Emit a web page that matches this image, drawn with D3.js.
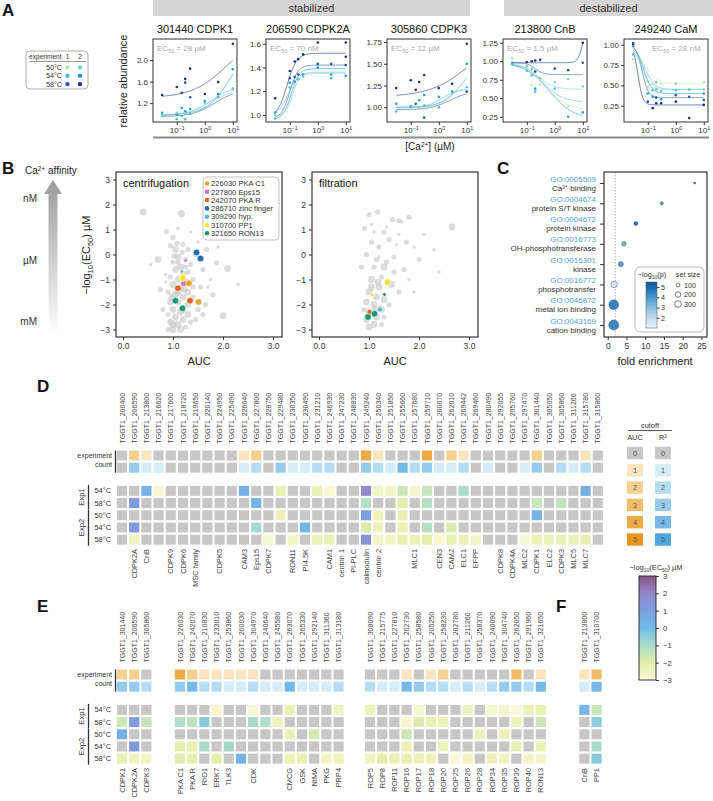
<!DOCTYPE html>
<html><head><meta charset="utf-8">
<script src="https://cdn.jsdelivr.net/npm/d3@7"></script>
<style>
body{margin:0;background:#fff;}
svg{font-family:"Liberation Sans",Arial,Helvetica,sans-serif;}
</style></head><body>
<svg id="fig" width="713" height="801"></svg>
<script>
// ================= DATA =================
// ---- Panel A ----
const seriesNames = ["50°C exp1","54°C exp1","58°C exp1","50°C exp2","54°C exp2","58°C exp2"];
const seriesColors = ["#bfe5b3","#4fbfd3","#2c52a6","#7fd3bc","#1f9ad6","#1c2c84"];
const legendTemps = ["50°C","54°C","58°C"];
const aTitles = ["301440 CDPK1","206590 CDPK2A","305860 CDPK3","213800 CnB","249240 CaM"];
const aEC50 = ["28 µM","70 nM","12 µM","1.5 µM","28 nM"];
const aYDomains = [[0.85,2.39],[0.94,1.64],[0.83,1.785],[0.18,1.30],[0.05,1.07]];
const aYTicks = [[1.2,1.6,2.0],[1.0,1.2,1.4,1.6],[1.0,1.25,1.5,1.75],[0.25,0.5,0.75,1.0,1.25],[0.25,0.5,0.75,1.0]];
const aYFormats = [".1f",".1f",".2f",".2f",".2f"];
const aXTicks = [0.1, 1, 10];
const aXTickExp = ["\u22121","0","1"];
const aGroups = ["stabilized","destabilized"];
// fits: [series, start, end, log10EC50, hill]
const fitsCDPK1 = [[5,1.3,2.5,0.8,0.7],[4,0.98,2.5,1.0,1.0],[1,0.98,1.5,0.2,1.2],[3,0.96,1.46,0.15,1.0],[2,0.95,1.45,0.35,1.1]];
const fitsCDPK2A = [[5,0.98,1.52,-1.1,2.5],[2,0.97,1.42,-1.0,3],[4,0.96,1.39,-0.95,3],[1,1.0,1.36,-1.05,2.5],[3,0.99,1.35,-0.9,3.5]];
const fitsCDPK3 = [[5,1.12,1.9,1.2,0.6],[4,1.0,1.6,0.9,1.2],[1,0.99,1.21,0.1,1.5],[2,0.97,1.19,0.4,1.2],[3,1.0,1.22,0.3,2]];
const fitsCnB = [[5,0.98,1.5,1.0,5],[2,0.98,0.82,-0.7,3],[3,0.98,0.62,-0.6,1.5],[1,0.97,0.45,-0.4,1.3],[0,0.96,0.35,-0.3,1.2],[4,0.98,0.22,-0.2,1.0]];
const fitsCaM = [[5,1.0,0.26,-1.35,5],[2,1.0,0.35,-1.2,4],[4,1.0,0.40,-1.15,3],[1,0.97,0.45,-1.1,2.5],[0,0.93,0.52,-1.05,2],[3,0.96,0.45,-1.2,3]];
// points: [conc µM, relative abundance, series]
const ptsCDPK1 = [[0.03,1.35,5],[0.03,1.02,4],[0.03,0.96,1],[0.03,0.98,3],[0.1,1.50,5],[0.1,0.99,4],[0.1,0.90,1],[0.1,1.02,3],
 [0.15,1.39,2],[0.15,1.11,4],[0.15,0.96,1],[0.2,1.65,5],[0.2,1.58,2],[0.2,1.05,4],[0.2,0.90,1],[0.3,1.84,5],[0.3,1.31,2],[0.3,1.09,4],[0.3,1.00,1],
 [1,1.37,5],[1,1.24,4],[1,1.21,1],[1,1.11,3],[3,1.59,5],[3,1.37,4],[3,1.31,1],[10,2.30,5],[10,1.83,4],[10,1.47,1],[10,1.45,3]];
const ptsCDPK2A = [[0.03,1.14,5],[0.03,1.02,4],[0.03,0.97,1],[0.03,1.0,3],[0.1,1.37,5],[0.1,1.31,2],[0.1,1.27,4],[0.1,1.23,1],
 [0.15,1.45,5],[0.15,1.32,2],[0.15,1.28,4],[0.2,1.47,5],[0.2,1.34,2],[0.2,1.30,1],[0.3,1.51,5],[0.3,1.34,4],[0.3,1.32,3],
 [1,1.61,5],[1,1.43,2],[1,1.40,4],[3,1.43,2],[3,1.34,4],[3,1.31,1],[10,1.61,5],[10,1.49,5],[10,1.42,2],[10,1.33,4]];
const ptsCDPK3 = [[0.03,1.22,5],[0.03,1.04,4],[0.03,0.95,1],[0.1,1.31,5],[0.1,1.01,4],[0.1,1.0,1],[0.15,1.20,5],[0.15,1.04,2],
 [0.2,1.29,5],[0.2,1.08,4],[0.2,1.0,3],[0.3,1.37,5],[0.3,1.14,4],[0.3,1.02,1],[0.3,0.88,2],[1,1.22,5],[1,1.12,4],[1,1.0,1],
 [3,1.27,5],[3,1.18,4],[10,1.73,5],[10,1.50,4],[10,1.23,1],[10,1.18,2]];
const ptsCnB = [[0.03,1.04,0],[0.03,0.98,4],[0.03,0.96,1],[0.1,0.99,5],[0.1,0.93,3],[0.1,0.87,1],[0.15,1.0,5],[0.15,0.9,3],[0.15,0.81,1],[0.15,0.68,0],
 [0.2,1.01,5],[0.2,0.86,2],[0.2,0.63,4],[0.2,0.59,1],[0.3,1.02,5],[0.3,0.77,3],[0.3,0.68,0],[1,0.9,2],[1,0.72,3],[1,0.63,1],
 [3,0.88,2],[3,0.76,3],[3,0.39,0],[3,0.25,4],[10,1.25,5],[10,0.98,2],[10,0.66,3],[10,0.31,4]];
const ptsCaM = [[0.03,1.01,5],[0.03,1.02,2],[0.03,0.98,4],[0.03,0.88,1],[0.03,0.82,0],[0.1,0.55,3],[0.1,0.48,0],[0.1,0.40,4],[0.1,0.30,2],
 [0.15,0.52,0],[0.15,0.44,1],[0.15,0.36,4],[0.15,0.22,5],[0.2,0.54,3],[0.2,0.45,1],[0.2,0.35,2],[0.2,0.28,5],[0.3,0.52,0],[0.3,0.43,1],[0.3,0.33,4],[0.3,0.28,5],
 [1,0.52,3],[1,0.44,1],[1,0.38,2],[1,0.30,5],[3,0.45,1],[3,0.36,2],[3,0.10,5],[10,0.54,0],[10,0.45,3],[10,0.40,4],[10,0.32,2],[10,0.26,5]];

// ---- Panel B ----
const bHlNames = ["226030 PKA C1","227800 Eps15","242070 PKA R","286710 zinc finger","309290 hyp.","310700 PP1","321650 RON13"];
const bHlColors = ["#f0a22e","#d975b4","#dd6526","#1f6db3","#5bb4e8","#f3e337","#14996b"];
const bXTicks = [0,1,2,3];
const bYTicks = [3,2,1,0,-1,-2,-3];
const bAffinity = ["nM","µM","mM"];
// gray points: [AUC, -log10(EC50), sizeClass]
const bGrayCentri = [[0.4,1.7,3],[1.17,1.63,3],[0.87,0.92,2],[1.0,0.68,2],[1.35,0.9,1],[1.1,1.05,1],[0.95,0.35,2],[0.7,-0.2,3],[2.09,-0.56,3],[2.0,-2.45,3],
 [1.8,-1.6,2],[1.67,0.2,2],[1.87,-0.33,2],[1.6,-0.6,2],[1.75,-1.0,1],[1.55,-1.3,2],[1.65,-2.0,2],[1.45,-2.6,2],[0.75,-1.4,2],[0.8,-2.2,2],
 [0.85,-0.8,1],[1.5,0.5,1],[1.3,0.2,2],[1.2,0.4,2],[1.05,0.2,3],[1.1,-0.1,3],[1.0,-0.3,2],[1.15,-0.5,3],[1.25,-0.2,2],[1.05,-0.6,3],
 [1.2,-0.8,3],[0.95,-0.9,2],[1.1,-1.0,3],[1.3,-0.7,2],[1.4,-1.0,2],[1.0,-1.2,3],[1.15,-1.3,3],[1.3,-1.5,3],[0.9,-1.5,2],[1.05,-1.6,3],
 [1.2,-1.7,3],[1.4,-1.7,2],[0.95,-1.9,3],[1.1,-1.9,3],[1.3,-2.0,3],[1.5,-2.2,2],[1.0,-2.2,3],[1.15,-2.3,3],[1.3,-2.4,3],[0.9,-2.4,2],
 [1.05,-2.5,3],[1.2,-2.6,3],[0.95,-2.7,3],[1.1,-2.8,3],[1.25,-2.9,2],[1.0,-3.0,3],[1.15,-3.0,3],[0.9,-3.0,2],[1.35,-2.7,2],[1.4,-1.3,2],
 [0.85,-1.1,1],[1.25,-1.1,3],[1.1,-0.3,2],[1.35,-0.4,2],[1.6,-2.4,2],[1.7,-1.3,1],[1.45,0.0,2],[1.0,-2.8,3],[1.2,-2.2,3],[1.1,-1.5,3],
 [1.25,-0.5,2],[0.98,-1.7,3],[0.55,-0.4,1],[1.9,0.3,1],[1.55,-0.2,1],[2.3,-1.2,1],[1.08,0.45,2],[1.18,0.1,2],[1.02,-0.05,2],[1.22,-1.4,3]];
const bGrayFilt = [[1.17,1.7,2],[1.47,1.4,2],[1.8,1.5,2],[2.66,1.1,3],[1.6,1.36,2],[1.65,1.3,1],[0.91,1.05,2],[1.0,1.6,2],[1.05,1.2,1],[1.3,0.9,2],
 [1.4,0.6,2],[1.6,0.8,1],[1.75,0.5,2],[1.9,0.3,1],[2.0,-0.2,2],[1.2,0.3,2],[1.05,0.5,2],[0.95,0.0,2],[1.15,-0.2,2],[1.3,-0.5,3],
 [1.5,-0.1,2],[1.7,-0.6,2],[1.25,-0.9,2],[1.45,-1.2,3],[1.05,-1.0,3],[1.2,-1.3,3],[1.0,-1.5,3],[1.15,-1.7,3],[1.3,-1.8,3],[0.95,-1.9,3],
 [1.1,-2.0,3],[1.25,-2.2,3],[1.0,-2.3,3],[1.15,-2.5,3],[1.3,-2.5,2],[0.95,-2.6,3],[1.1,-2.8,3],[1.25,-2.8,2],[1.0,-2.9,3],[0.9,-2.2,2],
 [1.4,-2.0,2],[1.6,-1.5,2],[1.8,-1.0,1],[2.3,0.2,1],[1.35,1.1,1],[1.55,0.4,1],[1.1,0.9,1],[2.1,0.8,1],[0.85,-0.5,2],[1.1,-0.5,2],
 [1.35,-0.3,2],[1.5,-0.7,2],[1.2,-0.1,1],[1.9,-1.5,1],[2.4,-0.7,1],[1.05,-1.3,3],[1.18,-1.1,3],[1.12,-2.2,3]];
// highlighted: [protein index, AUC, -log10(EC50), sizeClass]
const bHlCentri = [[3,1.47,0.08,3],[3,1.55,-0.16,3],[1,1.25,-0.24,1],[1,1.22,-1.15,3],[4,1.18,-0.68,1],[5,1.2,-0.88,3],[5,1.19,-0.95,3],
 [0,1.32,-1.15,3],[0,1.51,-1.9,3],[2,1.1,-1.35,3],[2,1.34,-1.85,3],[6,1.05,-1.85,3],[6,1.19,-2.15,3]];
const bHlFilt = [[5,1.37,-1.1,3],[5,1.07,-1.63,1],[3,1.31,-1.6,1],[0,1.22,-2.15,2],[4,1.22,-2.2,2],[2,1.01,-2.3,2],[6,1.11,-2.37,3],[6,0.98,-2.5,3]];

// ---- Panel C ----
const goIds = ["GO:0005509","GO:0004674","GO:0004672","GO:0016773","GO:0016301","GO:0016772","GO:0046872","GO:0043169"];
const goNames = ["Ca²⁺ binding","protein S/T kinase","protein kinase","OH-phosphotransferase","kinase","phosphotransfer","metal ion binding","cation binding"];
const goFold = [23.2,14.4,7.5,4.3,3.5,1.7,1.6,1.6];
const goNegLogP = [5.0,3.8,4.8,3.3,3.7,1.6,4.4,4.3];
const goSetSize = [20,50,75,100,120,200,450,480];
const cXTicks = [0,5,10,15,20,25];
const cPTicks = [5,4,3,2];
const cSizeLegend = [100,200,300];

// ---- Panel D ----
const dIds = ["200400","206590","213800","216620","217600","218720","219650","220140","224950","225490","226040","227800","228750","229480","230350","230490","231210","246930","247230","248830",
 "249240","250340","251850","255660","257680","259710","260670","262010","269442","269460","280490","292055","295760","297470","301440","305050","305860","311260","315780","315860"];
const dNames = ["","CDPK2A","CnB","","CDPK9","CDPK6","MSC family","","CDPK5","","CAM3","Eps15","CDPK7","","RON11","PI4,5K","","CAM1","centrin 1","PI-PLC",
 "calmodulin","centrin 2","","","MLC1","","CEN3","CAM2","ELC1","EFPP","","CDPK8","CDPK4A","MLC2","CDPK1","ELC2","CDPK3","MLC5","MLC7",""];
const dAUC = [0,2,1,0,0,0,0,0,0,0,1,2,0,0,0,0,0,0,0,0, 4,1,0,0,0,4,0,2,1,0,0,0,0,0,2,0,0,0,1,0];
const dR2 = [0,3,1,1,0,0,0,0,0,0,1,2,0,3,1,1,2,2,0,0, 3,2,1,4,2,3,1,1,2,0,1,0,0,1,3,0,2,1,2,0];
const _ = null;
const dExp1_54 = [_,_,0.3,-2.8,_,_,_,_,_,_,0.4,_,_,-2.2,_,_,-2.3,-2.9,_,_, 1.8,-2.5,-2.6,-1.6,-2.7,-1.5,_,_,-1.0,_,_,_,_,_,_,_,_,_,0.5,_];
const dExp1_58 = [_,1.2,_,_,_,_,_,_,_,_,_,0.2,_,_,_,_,_,_,_,_, -1.2,_,_,-2.0,_,-1.2,_,_,_,_,_,_,_,_,-1.5,_,-1.3,_,_,_];
const dExp2_50 = [_,_,_,_,_,_,_,_,_,_,_,_,_,-2.3,_,_,_,_,_,_, 1.0,-2.4,_,-2.2,_,_,_,_,_,_,_,_,_,_,0.3,_,_,_,_,_];
const dExp2_54 = [_,1.2,_,_,_,_,_,_,_,_,_,-0.9,_,_,_,0.2,_,_,_,_, -1.8,-2.4,_,-2.3,_,-1.2,_,-1.8,_,_,_,_,_,_,_,_,_,_,_,_];
const dExp2_58 = [_,-2.5,_,_,_,_,_,_,_,_,_,_,-2.8,_,-2.5,_,-2.4,-2.2,_,_, 1.5,-2.6,-2.5,-2.2,-2.3,-2.0,-2.8,-2.2,-2.3,-2.6,_,_,_,-2.8,-2.3,-2.4,-2.2,-2.4,-2.2,_];

// ---- Panel E ----
const eIds1 = ["301440","206590","305860"];
const eNames1 = ["CDPK1","CDPK2A","CDPK3"];
const eAUC1 = [2,2,0];
const eR21 = [3,3,2];
const eHeat1 = [[_,_,_],[-1.6,1.2,-1.4],[0.4,_,_],[_,1.2,_],[-2.2,-2.5,-2.5]];
const eIds2 = ["226030","242070","210830","233010","253860","260030","304970","240640","245580","263070","265330","292140","311360","313180"];
const eNames2 = ["PKA C1","PKA R","RIO1","ERK7","TLK3","","CDK","","","CMCG","GSK","NIMA","PKG","PRP4"];
const eAUC2 = [4,2,1,1,1,1,1,0,0,0,0,0,0,0];
const eR22 = [3,4,2,2,1,1,2,1,1,4,1,1,1,2];
const eHeat2 = [
 [_,_,_,-2.8,_,_,-2.9,_,_,-2.2,_,_,_,-2.5],
 [-1.1,-1.3,-0.4,_,_,_,-1.0,-1.1,-2.4,_,_,_,_,_],
 [_,_,_,_,_,_,_,_,_,-2.2,_,-1.7,_,_],
 [-2.1,-2.2,-1.0,_,-0.9,_,_,_,_,_,_,_,_,_],
 [-1.9,-2.1,_,-2.0,_,0.3,_,_,_,-2.3,-2.2,_,-2.6,-2.5]];
const eIds3 = ["308090","215775","227810","262730","258580","205250","258230","202780","211260","258370","240090","304740","262050","291960","321650"];
const eNames3 = ["ROP5","ROP8","ROP11","ROP16","ROP17","ROP18","ROP20","ROP25","ROP26","ROP28","ROP34","ROP35","ROP39","ROP40","RON13"];
const eAUC3 = [0,0,0,1,0,1,2,0,0,0,0,0,3,0,1];
const eR23 = [2,1,1,4,3,2,2,1,2,1,2,3,3,2,4];
const eHeat3 = [
 [-2.3,_,_,_,-2.8,_,_,_,-2.4,_,-2.8,-2.7,-2.95,-2.3,-2.2],
 [_,_,_,-2.8,-1.8,-2.2,-2.3,_,_,_,_,_,-2.3,_,-1.6],
 [_,_,_,-1.6,_,_,_,_,_,-2.3,_,-2.3,_,_,_],
 [_,_,_,-2.3,_,_,-2.4,_,_,_,_,_,-2.2,_,-2.3],
 [-2.5,-2.0,-2.2,-2.2,-2.3,-2.4,_,-2.9,-2.5,_,-2.3,-2.5,_,-2.6,-2.7]];
// ---- Panel F ----
const fIds = ["213800","310700"];
const fNames = ["CnB","PP1"];
const fAUC = [1,3];
const fR2 = [1,4];
const fHeat = [[0.2,-1.5],[_,-0.5],[_,_],[_,-1.0],[_,-0.4]];

const heatRowTemps = ["54°C","58°C","50°C","54°C","58°C"];
const heatExpGroups = ["Exp1","Exp2"];
const cutoffLevels = [0,1,2,3,4,5];
const ecTicks = [3,2,1,0,-1,-2,-3];

// ================= STYLE =================
const FONT = '"Liberation Sans", Arial, Helvetica, sans-serif';
const aucColors = ["#c9c6c6","#fbe4c0","#f6d08f","#f2bd69","#eeaa44","#e8961c"];
const r2Colors  = ["#c9c6c6","#d5ecf9","#b5dcf3","#96cbee","#74b9e7","#4fa6df"];
const naColor = "#c9c6c6";
const ecColor = d3.scaleLinear().domain([-3,-2,-1,0,1,2,3])
  .range(["#fcf8d9","#e6eda9","#abdccb","#73bce7","#7b9fe0","#9486c8","#8a5684"]).clamp(true);

const svg = d3.select("#fig");
const defs = svg.append("defs");

function txt(x,y,s,size,opts={}){
  const t = svg.append("text").attr("x",x).attr("y",y).attr("font-size",size).attr("fill",opts.fill||"#222")
    .attr("text-anchor",opts.anchor||"start").text(s);
  if(opts.weight) t.attr("font-weight",opts.weight);
  return t;
}
function styleAxis(g,size){
  g.attr("font-family",FONT).attr("font-size",size);
  g.select(".domain").remove();
  g.selectAll("line").attr("stroke","#333");
  g.selectAll("text").attr("fill","#333");
}

// panel letters
[["A",2,16],["B",2,174],["C",497,174],["D",37,392],["E",37,612],["F",556,612]].forEach(d=>txt(d[1],d[2],d[0],17,{weight:"bold",fill:"#111"}));

// ================= PANEL A =================
const aLefts=[153,266,387,503,624], aW=84, aTop=39, aBot=122;
const aFits=[fitsCDPK1,fitsCDPK2A,fitsCDPK3,fitsCnB,fitsCaM];
const aPts=[ptsCDPK1,ptsCDPK2A,ptsCDPK3,ptsCnB,ptsCaM];
const bannerSpans=[[153,470],[504,713]];
aGroups.forEach((g,i)=>{
  svg.append("rect").attr("x",bannerSpans[i][0]).attr("y",0).attr("width",bannerSpans[i][1]-bannerSpans[i][0]).attr("height",16).attr("fill","#d6d6d6");
  txt((bannerSpans[i][0]+bannerSpans[i][1])/2,12,g,11,{anchor:"middle",fill:"#333"});
});
svg.append("line").attr("x1",153).attr("x2",709).attr("y1",137.5).attr("y2",137.5).attr("stroke","#8a8a8a").attr("stroke-width",1.8);
const caLab = txt(430,150,"",10,{anchor:"middle"});
caLab.append("tspan").text("[Ca");
caLab.append("tspan").attr("dy",-3.5).attr("font-size",6.5).text("2+");
caLab.append("tspan").attr("dy",3.5).text("] (µM)");
svg.append("text").attr("transform","translate(127,81) rotate(-90)").attr("text-anchor","middle").attr("font-size",11).attr("fill","#222").text("relative abundance");

aTitles.forEach((title,i)=>{
  const L=aLefts[i];
  const x=d3.scaleLog().domain([Math.pow(10,-1.85),Math.pow(10,1.15)]).range([L,L+aW]);
  const y=d3.scaleLinear().domain(aYDomains[i]).range([aBot,aTop]);
  const g=svg.append("g");
  const ya=g.append("g").attr("transform",`translate(${L},0)`)
    .call(d3.axisLeft(y).tickValues(aYTicks[i]).tickFormat(d3.format(aYFormats[i])).tickSize(3).tickPadding(2));
  styleAxis(ya,8);
  const xa=g.append("g").attr("transform",`translate(0,${aBot})`)
    .call(d3.axisBottom(x).tickValues(aXTicks).tickFormat("").tickSize(3));
  styleAxis(xa,8);
  xa.selectAll(".tick").append("text").attr("y",11).attr("text-anchor","middle").attr("fill","#333").attr("font-size",8)
    .each(function(d,k){const t=d3.select(this);t.append("tspan").text("10");t.append("tspan").attr("dy",-3).attr("font-size",5.5).text(aXTickExp[k]);});
  const grid=d3.range(Math.log10(0.03),1.0001,0.02);
  aFits[i].forEach(f=>{
    const [s,b,t,c,h]=f;
    const line=d3.line().x(lx=>x(Math.pow(10,lx))).y(lx=>y(b+(t-b)/(1+Math.pow(10,(c-lx)*h))));
    g.append("path").attr("d",line(grid)).attr("fill","none").attr("stroke",seriesColors[s]).attr("stroke-width",1).attr("opacity",0.6);
  });
  g.selectAll("circle.p").data(aPts[i]).join("circle").attr("class","p")
    .attr("cx",d=>x(d[0])).attr("cy",d=>y(d[1])).attr("r",1.3).attr("fill",d=>seriesColors[d[2]]);
  g.append("rect").attr("x",L).attr("y",aTop).attr("width",aW).attr("height",aBot-aTop).attr("fill","none").attr("stroke","#333").attr("stroke-width",1);
  txt(L+aW/2,33,title,11,{anchor:"middle",fill:"#111"});
  const ec=txt(i===4?L+28:L+4,51,"",8,{fill:"#aaa"});
  ec.append("tspan").text("EC");
  ec.append("tspan").attr("dy",2).attr("font-size",5.5).text("50");
  ec.append("tspan").attr("dy",-2).text(" = "+aEC50[i]);
});
// legend A
svg.append("rect").attr("x",26).attr("y",51).attr("width",62).attr("height",38).attr("rx",4).attr("fill","none").attr("stroke","#999").attr("stroke-width",0.8);
txt(29,59,"experiment",6.6,{fill:"#333"});
txt(67.5,59,"1",6.6,{anchor:"middle",fill:"#333"});
txt(80,59,"2",6.6,{anchor:"middle",fill:"#333"});
svg.append("line").attr("x1",29).attr("x2",86).attr("y1",61.5).attr("y2",61.5).attr("stroke","#555").attr("stroke-width",0.6);
legendTemps.forEach((t,k)=>{
  const yy=67.5+k*8.3;
  txt(62,yy+2.5,t,7.2,{anchor:"end",fill:"#333"});
  svg.append("circle").attr("cx",67.5).attr("cy",yy).attr("r",2.2).attr("fill",seriesColors[k]);
  svg.append("circle").attr("cx",80).attr("cy",yy).attr("r",2.2).attr("fill",seriesColors[k+3]);
});

// ================= PANEL B =================
const grad=defs.append("linearGradient").attr("id","affGrad").attr("x1",0).attr("x2",0).attr("y1",0).attr("y2",1);
grad.append("stop").attr("offset","0%").attr("stop-color","#9a9a9a");
grad.append("stop").attr("offset","100%").attr("stop-color","#ffffff");
svg.append("path").attr("d","M53,180 L62,194 L57.5,194 L57.5,334 L48.5,334 L48.5,194 L44,194 Z").attr("fill","url(#affGrad)");
const caAff=txt(25,174,"",10,{fill:"#222"});
caAff.append("tspan").text("Ca");
caAff.append("tspan").attr("dy",-3.5).attr("font-size",6.5).text("2+");
caAff.append("tspan").attr("dy",3.5).text(" affinity");
const affY=d3.scalePoint().domain(bAffinity).range([202,325]);
bAffinity.forEach(a=>txt(37,affY(a),a,10,{anchor:"end",fill:"#333"}));
const bY=d3.scaleLinear().domain([-3.3,3.3]).range([337,172]);
const ylab=svg.append("text").attr("transform","translate(90,255) rotate(-90)").attr("text-anchor","middle").attr("font-size",11).attr("fill","#222");
ylab.append("tspan").text("\u2212log");
ylab.append("tspan").attr("dy",2.5).attr("font-size",7.5).text("10");
ylab.append("tspan").attr("dy",-2.5).text("(EC");
ylab.append("tspan").attr("dy",2.5).attr("font-size",7.5).text("50");
ylab.append("tspan").attr("dy",-2.5).text(") µM");
const grayR=[0,1.7,2.6,3.4], hlR=[0,1.8,2.6,3.3];
function scatter(L,title,gray,hl,legend){
  const x=d3.scaleLinear().domain([-0.14,3.18]).range([L,L+166]);
  const g=svg.append("g");
  const xa=g.append("g").attr("transform","translate(0,337)").call(d3.axisBottom(x).tickValues(bXTicks).tickSize(3).tickPadding(3));
  styleAxis(xa,8.5);
  const ya=g.append("g").attr("transform",`translate(${L},0)`).call(d3.axisLeft(bY).tickValues(bYTicks).tickSize(3).tickPadding(3).tickFormat(d=>d<0?"\u2212"+(-d):d));
  styleAxis(ya,8.5);
  g.selectAll("circle.g").data(gray).join("circle").attr("class","g").attr("cx",d=>x(d[0])).attr("cy",d=>bY(d[1])).attr("r",d=>grayR[d[2]])
    .attr("fill","#c4c4c4").attr("opacity",0.6);
  g.selectAll("circle.h").data(hl).join("circle").attr("class","h").attr("cx",d=>x(d[1])).attr("cy",d=>bY(d[2])).attr("r",d=>hlR[d[3]])
    .attr("fill",d=>bHlColors[d[0]]).attr("stroke","#fff").attr("stroke-width",0.6);
  g.append("rect").attr("x",L).attr("y",172).attr("width",166).attr("height",165).attr("fill","none").attr("stroke","#222").attr("stroke-width",1.1);
  txt(L+7,187,title,11,{fill:"#111"});
  txt(L+83,365,"AUC",11,{anchor:"middle"});
  if(legend){
    g.append("rect").attr("x",L+87).attr("y",177).attr("width",76).attr("height",63).attr("rx",4).attr("fill","#fff").attr("fill-opacity",0.85).attr("stroke","#aaa").attr("stroke-width",0.7);
    bHlNames.forEach((n,k)=>{
      const yy=183.5+k*8.3;
      g.append("circle").attr("cx",L+91).attr("cy",yy).attr("r",2.3).attr("fill",bHlColors[k]);
      g.append("text").attr("x",L+95).attr("y",yy+2.7).attr("font-size",7.6).attr("fill","#333").text(n);
    });
  }
}
scatter(116,"centrifugation",bGrayCentri,bHlCentri,true);
scatter(312,"filtration",bGrayFilt,bHlFilt,false);

// ================= PANEL C =================
const cX=d3.scaleLinear().domain([-1,26.5]).range([604,707]);
const cY=d3.scalePoint().domain(goIds).range([183,325]);
const cCol=d3.scaleSequential(d3.interpolateBlues).domain([0.6,6.2]);
const cR=d=>2.3*Math.sqrt(d/100);
{
  const g=svg.append("g");
  const xa=g.append("g").attr("transform","translate(0,337)").call(d3.axisBottom(cX).tickValues(cXTicks).tickSize(3).tickPadding(3));
  styleAxis(xa,8.5);
  const ya=g.append("g").attr("transform","translate(604,0)").call(d3.axisLeft(cY).tickFormat("").tickSize(4));
  styleAxis(ya,8);
  g.append("line").attr("x1",cX(2)).attr("x2",cX(2)).attr("y1",172).attr("y2",337).attr("stroke","#999").attr("stroke-width",0.8).attr("stroke-dasharray","1.5,1.5");
  goIds.forEach((id,k)=>{
    g.append("text").attr("x",596).attr("y",cY(id)-1.5).attr("text-anchor","end").attr("font-size",8).attr("fill","#4fa3dc").text(id);
    g.append("text").attr("x",596).attr("y",cY(id)+7.5).attr("text-anchor","end").attr("font-size",8).attr("fill","#333").text(goNames[k]);
  });
  g.selectAll("circle.go").data(goIds).join("circle").attr("class","go")
    .attr("cx",(d,k)=>cX(goFold[k])).attr("cy",d=>cY(d)).attr("r",(d,k)=>cR(goSetSize[k]))
    .attr("fill",(d,k)=>cCol(goNegLogP[k])).attr("stroke","#556").attr("stroke-width",0.5);
  g.append("rect").attr("x",635).attr("y",267).attr("width",69).attr("height",65).attr("rx",5).attr("fill","#fff").attr("stroke","#999").attr("stroke-width",0.7);
  const lt=g.append("text").attr("x",652).attr("y",277).attr("text-anchor","middle").attr("font-size",7.2).attr("fill","#333");
  lt.append("tspan").text("\u2212log");
  lt.append("tspan").attr("dy",1.8).attr("font-size",5).text("10");
  lt.append("tspan").attr("dy",-1.8).text("(p)");
  g.append("text").attr("x",688).attr("y",277).attr("text-anchor","middle").attr("font-size",7.2).attr("fill","#333").text("set size");
  const pg=defs.append("linearGradient").attr("id","pGrad").attr("x1",0).attr("x2",0).attr("y1",1).attr("y2",0);
  d3.range(0,1.0001,0.1).forEach(o=>pg.append("stop").attr("offset",o).attr("stop-color",cCol(1+o*4.5)));
  const pY=d3.scaleLinear().domain([1,5.5]).range([328,282]);
  g.append("rect").attr("x",646).attr("y",282).attr("width",11).attr("height",46).attr("fill","url(#pGrad)").attr("stroke","#555").attr("stroke-width",0.5);
  const pa=g.append("g").attr("transform","translate(657,0)").call(d3.axisRight(pY).tickValues(cPTicks).tickFormat(d3.format("d")).tickSize(2.5).tickPadding(1.5));
  styleAxis(pa,7.2);
  const sY=d3.scalePoint().domain(cSizeLegend).range([285,304]);
  cSizeLegend.forEach(s=>{
    g.append("circle").attr("cx",678).attr("cy",sY(s)).attr("r",cR(s)*0.85).attr("fill","#fff").attr("stroke","#444").attr("stroke-width",0.7);
    g.append("text").attr("x",684).attr("y",sY(s)+2.6).attr("font-size",7.2).attr("fill","#333").text(s);
  });
  g.append("rect").attr("x",604).attr("y",172).attr("width",103).attr("height",165).attr("fill","none").attr("stroke","#222").attr("stroke-width",1.1);
  txt(655,365,"fold enrichment",11,{anchor:"middle"});
}

// ================= HEATMAPS D / E / F =================
function heatBlock(groups,top,gaps,rowLabels){
  const slot=d3.scaleLinear().domain([0,1]).range([122,134.2]);
  const rowY=d3.scaleLinear().domain([0,1]).range([top,top+12.2]);
  const heatSlots=[2.9,3.9,4.9,5.9,6.9];
  const cw=10.2, ch=10;
  const g=svg.append("g");
  let s=0;
  groups.forEach((gp,gi)=>{
    s+=gaps[gi];
    gp.ids.forEach((id,j)=>{
      const cx=slot(s+j);
      g.append("text").attr("transform",`translate(${cx+2.6},${top-12}) rotate(-90)`).attr("font-size",7).attr("fill","#444").text("TGGT1_"+id);
      if(gp.names[j]) g.append("text").attr("transform",`translate(${cx+2.6},${top+93.5}) rotate(-90)`).attr("text-anchor","end").attr("font-size",7.4).attr("fill","#444").text(gp.names[j]);
      g.append("rect").attr("x",cx-cw/2).attr("y",rowY(0)-ch/2).attr("width",cw).attr("height",ch).attr("fill",aucColors[gp.auc[j]]);
      g.append("rect").attr("x",cx-cw/2).attr("y",rowY(1)-ch/2).attr("width",cw).attr("height",ch).attr("fill",r2Colors[gp.r2[j]]);
      gp.heat.forEach((row,r)=>{
        const v=row[j];
        g.append("rect").attr("x",cx-cw/2).attr("y",rowY(heatSlots[r])-ch/2).attr("width",cw).attr("height",ch).attr("fill",v===null?naColor:ecColor(v));
      });
    });
    s+=gp.ids.length;
  });
  if(rowLabels){
    g.append("text").attr("x",112).attr("y",top+2.5).attr("text-anchor","end").attr("font-size",7).attr("fill","#333").text("experiment");
    g.append("text").attr("x",112).attr("y",top+11).attr("text-anchor","end").attr("font-size",7).attr("fill","#333").text("count");
    g.append("line").attr("x1",115.5).attr("x2",115.5).attr("y1",rowY(0)-5).attr("y2",rowY(1)+5).attr("stroke","#333").attr("stroke-width",1.3);
    heatRowTemps.forEach((t,r)=>g.append("text").attr("x",111).attr("y",rowY(heatSlots[r])+2.6).attr("text-anchor","end").attr("font-size",7.4).attr("fill","#333").text(t));
    const spans=[[0,1],[2,4]];
    heatExpGroups.forEach((e,k)=>{
      const y1=rowY(heatSlots[spans[k][0]])-6, y2=rowY(heatSlots[spans[k][1]])+6;
      g.append("line").attr("x1",88.5).attr("x2",88.5).attr("y1",y1).attr("y2",y2).attr("stroke","#333").attr("stroke-width",1.3);
      g.append("text").attr("transform",`translate(84,${(y1+y2)/2}) rotate(-90)`).attr("text-anchor","middle").attr("font-size",7.6).attr("fill","#333").text(e);
    });
  }
}
heatBlock([{ids:dIds,names:dNames,auc:dAUC,r2:dR2,heat:[dExp1_54,dExp1_58,dExp2_50,dExp2_54,dExp2_58]}],455.5,[0],true);
heatBlock([
  {ids:eIds1,names:eNames1,auc:eAUC1,r2:eR21,heat:eHeat1},
  {ids:eIds2,names:eNames2,auc:eAUC2,r2:eR22,heat:eHeat2},
  {ids:eIds3,names:eNames3,auc:eAUC3,r2:eR23,heat:eHeat3}],674.5,[0,1.75,1.58],true);
heatBlock([{ids:fIds,names:fNames,auc:fAUC,r2:fR2,heat:fHeat}],674.5,[37.9],false);

// ---- cutoff legend & colorbar ----
{
  const g=svg.append("g");
  g.append("text").attr("x",650).attr("y",428).attr("text-anchor","middle").attr("font-size",7.4).attr("fill","#333").text("cutoff");
  g.append("line").attr("x1",628).attr("x2",672).attr("y1",430.5).attr("y2",430.5).attr("stroke","#333").attr("stroke-width",0.8);
  g.append("text").attr("x",635).attr("y",440).attr("text-anchor","middle").attr("font-size",7.4).attr("fill","#333").text("AUC");
  const r2t=g.append("text").attr("x",663).attr("y",440).attr("text-anchor","middle").attr("font-size",7.4).attr("fill","#333");
  r2t.append("tspan").text("R");r2t.append("tspan").attr("dy",-2.5).attr("font-size",5).text("2");
  const ly=d3.scaleLinear().domain([0,1]).range([453,470.3]);
  cutoffLevels.forEach(k=>{
    [[635,aucColors],[663,r2Colors]].forEach(([cx,cols])=>{
      g.append("rect").attr("x",cx-8).attr("y",ly(k)-6.2).attr("width",16).attr("height",12.4).attr("fill",cols[k]);
      g.append("text").attr("x",cx).attr("y",ly(k)+2.7).attr("text-anchor","middle").attr("font-size",7.4).attr("fill","#555").text(k);
    });
  });
  const cb=defs.append("linearGradient").attr("id","ecGrad").attr("x1",0).attr("x2",0).attr("y1",1).attr("y2",0);
  d3.range(0,1.0001,0.05).forEach(o=>cb.append("stop").attr("offset",o).attr("stop-color",ecColor(-3+6*o)));
  const ecY=d3.scaleLinear().domain([-3,3]).range([680,576]);
  const ct=g.append("text").attr("x",656).attr("y",570).attr("text-anchor","middle").attr("font-size",7.4).attr("fill","#333");
  ct.append("tspan").text("\u2212log");
  ct.append("tspan").attr("dy",2).attr("font-size",5).text("10");
  ct.append("tspan").attr("dy",-2).text("(EC");
  ct.append("tspan").attr("dy",2).attr("font-size",5).text("50");
  ct.append("tspan").attr("dy",-2).text(") µM");
  g.append("rect").attr("x",639).attr("y",576).attr("width",17).attr("height",104).attr("fill","url(#ecGrad)").attr("stroke","#222").attr("stroke-width",0.9);
  const ea=g.append("g").attr("transform","translate(656,0)").call(d3.axisRight(ecY).tickValues(ecTicks).tickSize(3).tickPadding(4).tickFormat(d=>d<0?"\u2212"+(-d):d));
  styleAxis(ea,7.6);
}
</script></body></html>
